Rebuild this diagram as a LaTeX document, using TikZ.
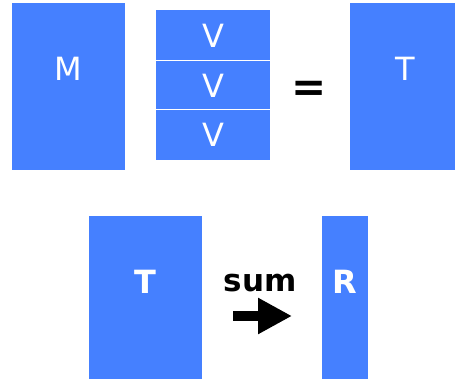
\documentclass[tikz,border=0pt]{standalone}
\usepackage{fontspec}
\setmainfont{DejaVu Sans}
\usetikzlibrary{arrows.meta}
\definecolor{boxblue}{RGB}{69,128,255}
\begin{document}
\begin{tikzpicture}[x=1pt,y=-1pt,
  lbl/.style={inner sep=0pt,font=\fontsize{32}{32}\selectfont},
  wlbl/.style={lbl,text=white},
  wblbl/.style={lbl,text=white,font=\fontsize{32}{32}\selectfont\bfseries}]
\useasboundingbox[fill=white] (0,0) rectangle (455,379);
% top row
\fill[boxblue] (12,3) rectangle (125,170);
\node[wlbl] (m) at (68,69) {M};
\fill[boxblue] (156,10) rectangle (270,60);
\fill[boxblue] (156,61.5) rectangle (270,109);
\fill[boxblue] (156,110.5) rectangle (270,160);
\node[wlbl] (v1) at (213,36) {V};
\node[wlbl] (v2) at (213,86) {V};
\node[wlbl] (v3) at (213,135) {V};
\node[lbl,font=\fontsize{42}{42}\selectfont\bfseries] (eq) at (309,91) {=};
\fill[boxblue] (350,3) rectangle (455,170);
\node[wlbl] (t1) at (405,69) {T};
% bottom row
\fill[boxblue] (89,216) rectangle (202,379);
\node[wblbl] (t2) at (145,282) {T};
\node[lbl,font=\fontsize{31}{31}\selectfont\bfseries] (sum) at (260,283) {sum};
\coordinate (as) at (233,316);
\coordinate (ae) at (292,316);
\draw[line width=10pt,-{Triangle[length=34pt,width=34pt]}] (as) -- (ae);
\fill[boxblue] (322,216) rectangle (368,379);
\node[wblbl] (r) at (345,282) {R};
\end{tikzpicture}
\end{document}
